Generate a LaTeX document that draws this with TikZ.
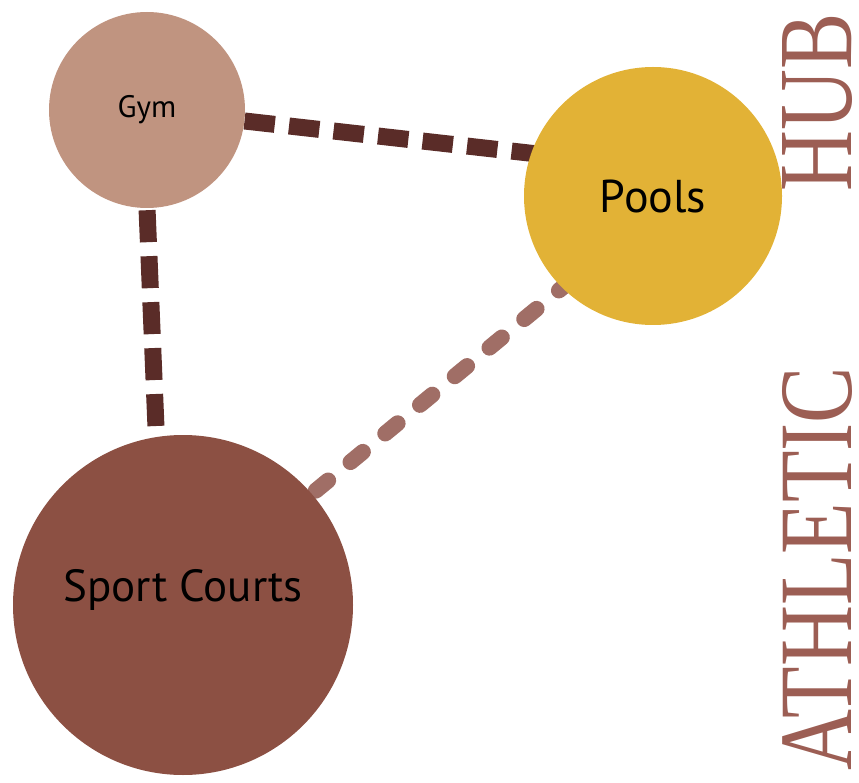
\documentclass[tikz,border=0pt]{standalone}
\usepackage{fontspec}
\setmainfont{Liberation Serif}
\newfontfamily\labelfont{PT Sans}
\usetikzlibrary{calc,backgrounds}
\definecolor{gymfill}{HTML}{C09480}
\definecolor{poolfill}{HTML}{E2B236}
\definecolor{courtfill}{HTML}{8C5043}
\definecolor{darklink}{HTML}{5A2C28}
\definecolor{lightlink}{HTML}{A06E66}
\definecolor{titlecol}{HTML}{9C5E54}
\tikzset{
  place/.style={circle,draw=none,inner sep=0pt,font=\labelfont,text=black},
  darkdash/.style={draw=darklink,line width=17pt,line cap=butt},
  lightdash/.style={draw=lightlink,line width=16pt,line cap=round},
  titletext/.style={rotate=90,inner sep=0pt,text=titlecol}
}
\begin{document}
\begin{tikzpicture}[x=1pt,y=-1pt]
\useasboundingbox (0,0) rectangle (859,783);
\node[place,fill=gymfill,minimum size=196pt,font=\labelfont\fontsize{31}{36}\selectfont] (gym) at (147,110) {Gym};
\node[place,fill=poolfill,minimum size=258pt,font=\labelfont\fontsize{46}{52}\selectfont] (pools) at (653,196) {\raisebox{-6pt}{Pools}};
\node[place,fill=courtfill,minimum size=340pt,font=\labelfont\fontsize{45}{52}\selectfont] (sport) at (183,605) {\raisebox{40pt}{Sport Courts}};
\begin{scope}[on background layer]
  \draw[darkdash,dash pattern=on 30.5pt off 14.3pt,dash phase=36.3pt] (gym.center) -- ($(pools.center)+(0,-29)$);
  \draw[darkdash,dash pattern=on 32pt off 14pt,dash phase=44pt] (gym.south) -- (sport.99);
  \draw[lightdash,dash pattern=on 16pt off 29pt,dash phase=8pt] ($(sport.center)+(0,-5)$) -- ($(pools.center)+(0,17)$);
\end{scope}
\node[titletext] (athletic) at (817.5,568.5) {\resizebox{403pt}{69pt}{ATHLETIC}};
\node[titletext] (hub) at (817.5,102) {\resizebox{178pt}{69pt}{HUB}};
\end{tikzpicture}
\end{document}
